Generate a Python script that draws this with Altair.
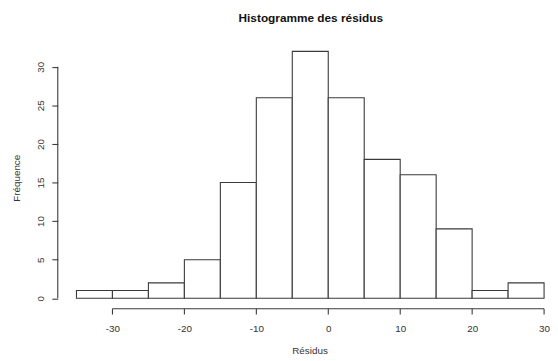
import altair as alt
import pandas as pd

bin_start = [-35, -30, -25, -20, -15, -10, -5, 0, 5, 10, 15, 20, 25]
bin_end = [-30, -25, -20, -15, -10, -5, 0, 5, 10, 15, 20, 25, 30]
counts = [1, 1, 2, 5, 15, 26, 32, 26, 18, 16, 9, 1, 2]
x_ticks = [-30, -20, -10, 0, 10, 20, 30]
y_ticks = [0, 5, 10, 15, 20, 25, 30]

df = pd.DataFrame({"start": bin_start, "end": bin_end, "count": counts})
df["zero"] = 0

W, H = 497.5, 270.6
xs = alt.Scale(domain=[-37.6, 30.55], nice=False, zero=False)
ys = alt.Scale(domain=[-1.28, 33.28], nice=False, zero=False)
FONT = "Liberation Sans"
STROKE = "#3a3a3a"

bars = alt.Chart(df).mark_rect(fill="white", stroke=STROKE, strokeWidth=1.1).encode(
    x=alt.X("start:Q", scale=xs, axis=alt.Axis(
        values=x_ticks, domain=False, grid=False, tickSize=6, tickColor=STROKE,
        tickWidth=1.1, labelPadding=10, labelFontSize=10, labelColor="#333",
        labelFont=FONT, labelExpr="'' + datum.value",
        title="Résidus", titleFont=FONT, titleFontSize=10,
        titleFontWeight="normal", titleColor="#333", titleX=255.5, titleY=43,
        titleBaseline="middle", titleAlign="center")),
    x2="end:Q",
    y=alt.Y("zero:Q", scale=ys, axis=alt.Axis(
        values=y_ticks, domain=False, grid=False, tickSize=6, tickColor=STROKE,
        tickWidth=1.1, labelAngle=270, labelAlign="center", labelBaseline="bottom",
        labelPadding=6, labelFontSize=10, labelColor="#333", labelFont=FONT,
        title="Fréquence", titleFont=FONT, titleFontSize=10,
        titleFontWeight="normal", titleColor="#333", titleX=-41.5, titleY=H / 2 + 3,
        titleBaseline="middle", titleAlign="center", titleAngle=270)),
    y2="count:Q",
)

xline_df = pd.DataFrame({"a": [x_ticks[0]], "b": [x_ticks[-1]]})
xline = alt.Chart(xline_df).mark_rule(color=STROKE, strokeWidth=1.1).encode(
    x=alt.X("a:Q", scale=xs), x2="b:Q", y=alt.value(H + 0.6)
)
yline_df = pd.DataFrame({"a": [y_ticks[0]], "b": [y_ticks[-1]]})
yline = alt.Chart(yline_df).mark_rule(color=STROKE, strokeWidth=1.1).encode(
    y=alt.Y("a:Q", scale=ys), y2="b:Q", x=alt.value(0)
)

chart = alt.layer(bars, xline, yline).properties(
    width=W, height=H,
    background="white",
    title=alt.TitleParams("Histogramme des résidus", font=FONT, fontSize=12,
                          fontWeight="bold", color="#111", anchor="middle",
                          dx=8, offset=8, baseline="alphabetic"),
    autosize=alt.AutoSizeParams(type="none"),
    padding={"left": 50.5, "top": 31.4, "right": 2, "bottom": 49},
).configure_view(stroke=None)

chart.save("out.html", embed_options={"renderer": "svg", "actions": False})
